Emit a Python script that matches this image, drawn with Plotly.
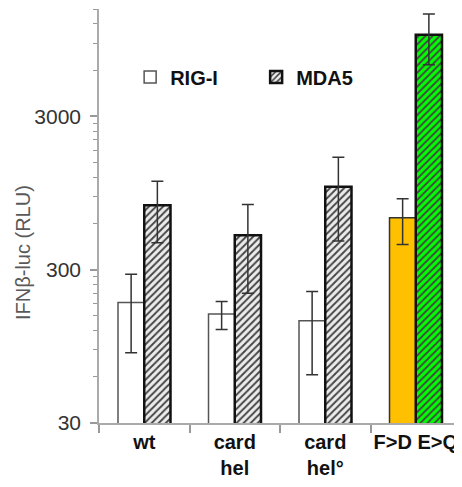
import plotly.graph_objects as go

categories = ["wt", "card<br>hel", "card<br>hel°", "F>D E>Q"]
rig_values = [183, 154, 139, 653]
rig_errors = [97, 32, 77, 215]
mda_values = [789, 503, 1041, 10200]
mda_errors = [340, 293, 580, 3700]

y_tickvals = [30, 300, 3000]
y_ticktext = ["30", "300", "3000"]
y_minor = [60, 90, 120, 150, 180, 210, 240, 270,
           600, 900, 1200, 1500, 1800, 2100, 2400, 2700,
           6000, 9000, 12000, 15000]

rig_fill = ["white", "white", "white", "#FFC000"]
rig_line = ["#555555", "#555555", "#555555", "#333333"]
mda_fill = ["#ececec", "#ececec", "#ececec", "#00ff00"]
mda_shape = ["/", "/", "/", "/"]

fig = go.Figure()
fig.add_trace(go.Bar(
    name="RIG-I", x=categories, y=rig_values,
    marker=dict(color=rig_fill, line=dict(color=rig_line, width=1.5)),
    error_y=dict(type="data", array=rig_errors, color="#333333", thickness=1.5, width=6),
))
fig.add_trace(go.Bar(
    name="MDA5", x=categories, y=mda_values,
    marker=dict(color=mda_fill, line=dict(color="#111111", width=2.5),
                pattern=dict(shape=mda_shape, fgcolor="#444444", fgopacity=1,
                             size=5, solidity=0.38, fillmode="overlay")),
    error_y=dict(type="data", array=mda_errors, color="#333333", thickness=1.5, width=6),
))

fig.update_layout(
    width=454, height=479,
    margin=dict(l=91, r=1, t=1, b=64),
    paper_bgcolor="white", plot_bgcolor="white",
    barmode="group", bargap=0.42, bargroupgap=0,
    font=dict(family="Arial, Liberation Sans, sans-serif", size=19, color="#404040"),
    showlegend=True,
    legend=dict(orientation="h", x=0.086, xanchor="left", y=0.836, yanchor="middle",
                font=dict(size=20, color="#111111", family="Arial, Liberation Sans, sans-serif", weight="bold"),
                entrywidth=81, entrywidthmode="pixels", bgcolor="rgba(0,0,0,0)"),
)
fig.update_yaxes(
    type="log", range=[1.4771, 4.1761], automargin=False,
    tickvals=y_tickvals, ticktext=y_ticktext,
    ticks="outside", ticklen=7, tickwidth=1.5, tickcolor="#999999",
    showline=True, linecolor="#aaaaaa", linewidth=1.5, showgrid=False, zeroline=False,
    ticklabelstandoff=5,
    minor=dict(tickvals=y_minor, ticks="outside", ticklen=4, tickwidth=1, tickcolor="#999999", showgrid=False),
    tickfont=dict(size=21, color="#333333"),
)
fig.update_xaxes(
    type="category", tickson="boundaries", tickangle=0, automargin=False,
    ticks="outside", ticklen=8, tickwidth=1.5, tickcolor="#999999",
    showline=True, linecolor="#aaaaaa", linewidth=1.5, showgrid=False,
    tickfont=dict(size=20, color="#111111", family="Arial, Liberation Sans, sans-serif", weight="bold"),
)
fig.add_annotation(
    text="IFNβ-luc (RLU)", textangle=-90, xref="paper", yref="paper",
    x=-0.21, y=0.413, xanchor="center", yanchor="middle", showarrow=False,
    font=dict(size=20, color="#595959"),
)
fig.write_html("out.html")
